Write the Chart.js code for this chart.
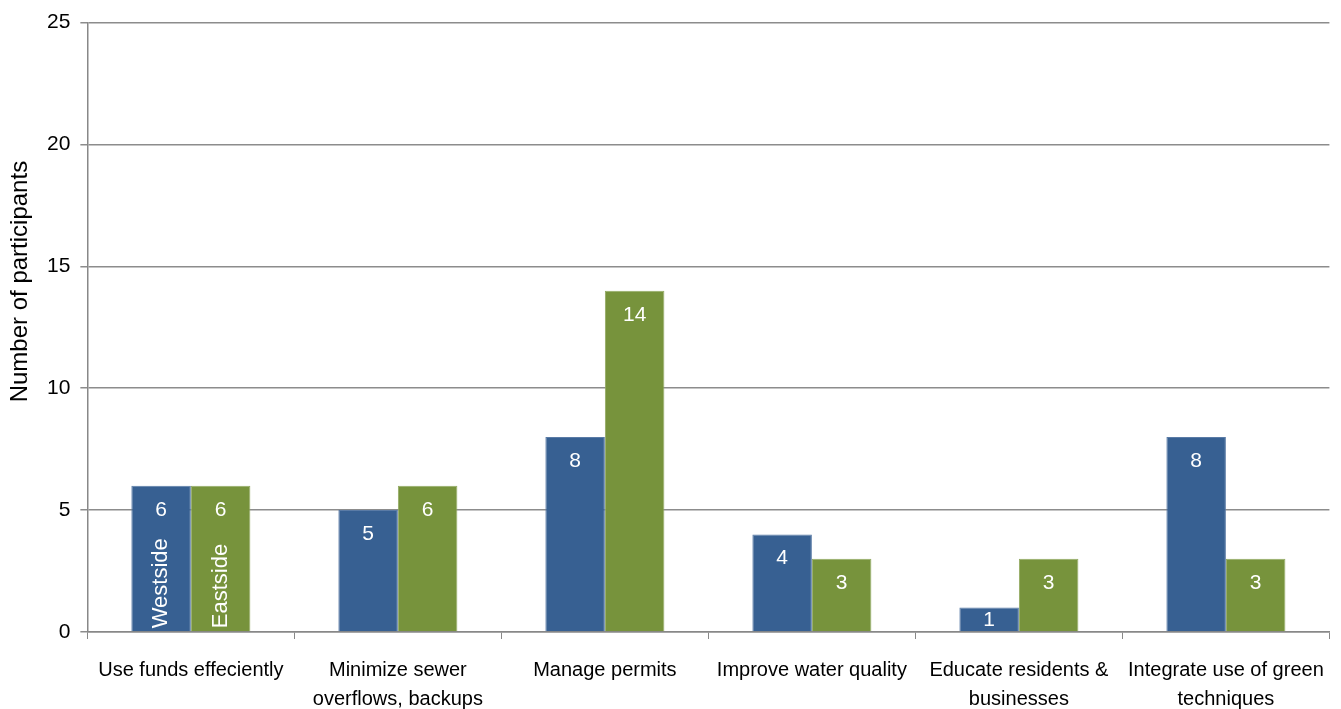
<!DOCTYPE html>
<html>
<head>
<meta charset="utf-8">
<script src="https://cdn.jsdelivr.net/npm/chart.js@4/dist/chart.umd.min.js"></script>
<style>
  html, body { margin: 0; padding: 0; background: #fff; }
  #wrap { width: 1341px; height: 709px; }
</style>
</head>
<body>
<div id="wrap"><canvas id="chart"></canvas></div>
<script>
const categories = [
  "Use funds effeciently",
  ["Minimize sewer", "overflows, backups"],
  "Manage permits",
  "Improve water quality",
  ["Educate residents &", "businesses"],
  ["Integrate use of green", "techniques"],
];
const westside = [6, 5, 8, 4, 1, 8];
const eastside = [6, 6, 14, 3, 3, 3];
const yTicks = [0, 5, 10, 15, 20, 25];
const yTitle = "Number of participants";

const FONT = "'Liberation Sans', Arial, sans-serif";

// white value labels inside the bars, series names in the first group
const barLabels = {
  id: "barLabels",
  afterDatasetsDraw(chart) {
    const c = chart.ctx;
    c.save();
    c.fillStyle = "#fff";
    chart.data.datasets.forEach((ds, i) => {
      const meta = chart.getDatasetMeta(i);
      meta.data.forEach((bar, j) => {
        c.font = "21px " + FONT;
        c.textAlign = "center";
        c.textBaseline = "middle";
        const ly = Math.min(bar.y + 24, (bar.y + bar.base) / 2 + 1);
        c.fillText(String(ds.data[j]), bar.x, ly);
        if (j === 0) {
          c.save();
          c.font = "22px " + FONT;
          c.translate(bar.x, bar.base - 3);
          c.rotate(-Math.PI / 2);
          c.textAlign = "left";
          c.fillText(ds.label, 0, 0);
          c.restore();
        }
      });
    });
    c.restore();
  },
};

// y axis title, sitting a little above the middle like the original
const yTitlePlugin = {
  id: "yTitle",
  afterDraw(chart) {
    const c = chart.ctx;
    const area = chart.chartArea;
    c.save();
    c.fillStyle = "#000";
    c.font = "24px " + FONT;
    c.textAlign = "center";
    c.textBaseline = "middle";
    c.translate(20, area.top + (area.bottom - area.top) * 0.425);
    c.rotate(-Math.PI / 2);
    c.fillText(yTitle, 0, 0);
    c.restore();
  },
};

new Chart(document.getElementById("chart"), {
  type: "bar",
  data: {
    labels: categories,
    datasets: [
      {
        label: "Westside",
        data: westside,
        backgroundColor: "#376092",
        borderColor: "#5a7ba6",
        borderWidth: 1,
        categoryPercentage: 0.575,
        barPercentage: 1,
      },
      {
        label: "Eastside",
        data: eastside,
        backgroundColor: "#77933c",
        borderColor: "#93aa63",
        borderWidth: 1,
        categoryPercentage: 0.575,
        barPercentage: 1,
      },
    ],
  },
  options: {
    responsive: true,
    maintainAspectRatio: false,
    animation: false,
    layout: { padding: { top: 17, right: 3, left: 37, bottom: -22 } },
    plugins: {
      legend: { display: false },
      tooltip: { enabled: false },
    },
    scales: {
      x: {
        offset: true,
        grid: {
          offset: true,
          drawOnChartArea: false,
          color: "#888",
          tickLength: 7,
        },
        border: { color: "#888", width: 1.5 },
        ticks: {
          color: "#000",
          font: { family: FONT, size: 20, lineHeight: 1.45 },
          padding: 17,
          maxRotation: 0,
          autoSkip: false,
        },
      },
      y: {
        min: 0,
        max: 25,
        afterBuildTicks: (axis) => {
          axis.ticks = yTicks.map((v) => ({ value: v }));
        },
        grid: { color: "#8c8c8c", lineWidth: 1.5, tickLength: 7 },
        border: { color: "#888", width: 1.5 },
        ticks: {
          color: "#000",
          font: { family: FONT, size: 21 },
          padding: 10,
        },
      },
    },
  },
  plugins: [barLabels, yTitlePlugin],
});
</script>
</body>
</html>
